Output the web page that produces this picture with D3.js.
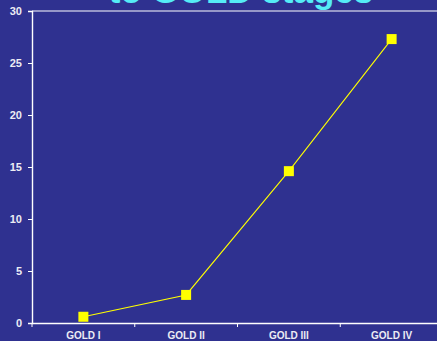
<!DOCTYPE html>
<html><head><meta charset="utf-8">
<script src="https://cdn.jsdelivr.net/npm/d3@7"></script>
<style>html,body{margin:0;padding:0;background:#2f3190;overflow:hidden}</style>
</head><body>
<svg id="c" width="437" height="341"></svg>
<script>
const categories = ["GOLD I", "GOLD II", "GOLD III", "GOLD IV"];
const values = [0.6, 2.7, 14.6, 27.3];
const yTicks = [0, 5, 10, 15, 20, 25, 30];
const titleText = "to GOLD stages";

const svg = d3.select("#c");
svg.append("rect").attr("width", 437).attr("height", 341).attr("fill", "#2f3190");

const x = d3.scaleBand().domain(categories).range([32, 443]).padding(0);
const y = d3.scaleLinear().domain([0, 30]).range([323, 11]);

// title (partially cropped)
svg.append("text").attr("x", 241).attr("y", 3).attr("text-anchor", "middle")
  .attr("font-family", "Liberation Sans, Arial, sans-serif").attr("font-weight", "bold")
  .attr("font-size", 35).attr("fill", "#55ecf6").text(titleText);

// top frame line
svg.append("line").attr("x1", 32).attr("x2", 437).attr("y1", y(30)).attr("y2", y(30))
  .attr("stroke", "#ffffff").attr("stroke-width", 1.2);

// y axis
const ya = svg.append("g").attr("transform", "translate(32,0)")
  .call(d3.axisLeft(y).tickValues(yTicks).tickSize(4).tickPadding(6).tickFormat(d3.format("d")));
ya.select(".domain").attr("stroke", "#ffffff").attr("stroke-width", 1.4);
ya.selectAll(".tick line").attr("stroke", "#ffffff").attr("stroke-width", 1);
ya.selectAll("text").attr("fill", "#ececf4").attr("font-family", "Liberation Sans, Arial, sans-serif")
  .attr("font-weight", "bold").attr("font-size", 11);

// x axis
const xa = svg.append("g").attr("transform", "translate(0," + y(0) + ")")
  .call(d3.axisBottom(x).tickSize(0).tickPadding(9));
xa.select(".domain").attr("stroke", "#ffffff").attr("stroke-width", 1.4);
xa.selectAll("text").attr("fill", "#ececf4").attr("font-family", "Liberation Sans, Arial, sans-serif")
  .attr("font-weight", "bold").attr("font-size", 10);
// category separator ticks
xa.selectAll(".sep").data(categories).enter().append("line")
  .attr("x1", d => x(d)).attr("x2", d => x(d)).attr("y1", 0).attr("y2", 4)
  .attr("stroke", "#ffffff").attr("stroke-width", 1);

const pts = categories.map((c, i) => [x(c) + x.bandwidth() / 2, y(values[i])]);
svg.append("path").attr("d", d3.line()(pts)).attr("fill", "none")
  .attr("stroke", "#ffff00").attr("stroke-width", 1.1);
svg.selectAll(".m").data(pts).enter().append("rect")
  .attr("x", d => d[0] - 5).attr("y", d => d[1] - 5).attr("width", 10).attr("height", 10)
  .attr("fill", "#ffff00");
</script>
</body></html>
